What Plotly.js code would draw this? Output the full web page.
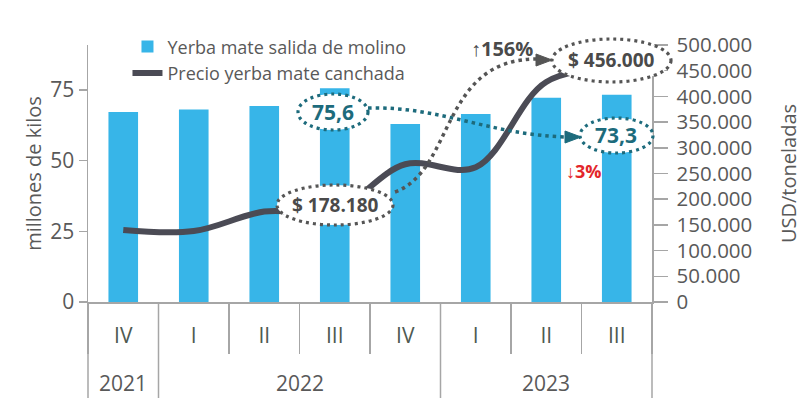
<!DOCTYPE html>
<html>
<head>
<meta charset="utf-8">
<script src="https://cdn.plot.ly/plotly-3.0.1.min.js"></script>
<style>html,body{margin:0;padding:0;background:#fff;}#chart{width:806px;height:400px;}</style>
</head>
<body>
<div id="chart"></div>
<script>
// ---- data ----
const years = ['2021','2022','2022','2022','2022','2023','2023','2023'];
const quarters = ['IV','I','II','III','IV','I','II','III'];
const salidaMolino = [67.2, 68.1, 69.3, 75.6, 63.0, 66.5, 72.2, 73.3]; // millones de kilos
const precioCanchada = [140000, 138000, 176000, 178180, 268000, 262000, 428000, 456000]; // USD/toneladas
const seriesNames = ['Yerba mate salida de molino', 'Precio yerba mate canchada'];
const callouts = ['$ 178.180', '75,6', '73,3', '$ 456.000', '↑156%', '↓3%'];

// unique category keys (year + quarter), shown with the quarter as tick text
const xKeys = years.map((y, i) => y + ' ' + quarters[i]);

// year groups (derived from the years array)
const groups = [];
years.forEach((y, i) => {
  const g = groups[groups.length - 1];
  if (g && g.year === y) g.end = i; else groups.push({year: y, start: i, end: i});
});

// ---- layout helpers (pixel -> paper) ----
const L = 88, R = 652, T = 45, B = 302;
const px = x => (x - L) / (R - L);
const py = y => (B - y) / (B - T);
const N = xKeys.length;
const idxToPaper = v => (v + 0.5) / N;

const FONT = '"Open Sans", "Noto Sans", sans-serif';
const GRAY = '#595959';
const DOT = '#555555';
const TEAL = '#1d6b7c';
const AXIS = '#a6a6a6';

function ellipse(x0, y0, x1, y1, color) {
  return {type:'circle', xref:'paper', yref:'paper', layer:'above',
    x0:px(x0), x1:px(x1), y0:py(y1), y1:py(y0),
    fillcolor:'#ffffff', line:{color:color, width:3.2, dash:'3px,4px'}};
}
function curve(p, color) {
  const s = 'M ' + px(p[0]) + ',' + py(p[1]) + ' C ' + px(p[2]) + ',' + py(p[3]) + ' ' +
            px(p[4]) + ',' + py(p[5]) + ' ' + px(p[6]) + ',' + py(p[7]);
  return {type:'path', xref:'paper', yref:'paper', layer:'above', path:s,
    line:{color:color, width:3.5, dash:'3.5px,4px'}};
}
function head(tx, ty, bx, h, color) {
  const s = 'M ' + px(tx) + ',' + py(ty) + ' L ' + px(bx) + ',' + py(ty - h) +
            ' L ' + px(bx) + ',' + py(ty + h) + ' Z';
  return {type:'path', xref:'paper', yref:'paper', layer:'above', path:s,
    fillcolor:color, line:{color:color, width:1}};
}
function label(x, y, text, color, size) {
  return {xref:'paper', yref:'paper', x:px(x), y:py(y), text:text, showarrow:false,
    xanchor:'center', yanchor:'middle', font:{family:FONT, size:size, color:color}};
}

const data = [
  {type:'bar', name:seriesNames[0], x:xKeys, y:salidaMolino,
   marker:{color:'#37b5e8'}, width:0.42, yaxis:'y'},
  {type:'scatter', mode:'lines', name:seriesNames[1], x:xKeys, y:precioCanchada,
   line:{color:'#4b4b55', width:6, shape:'spline', smoothing:1}, yaxis:'y2'}
];

// year dividers and year labels
const yearShapes = [];
const yearLabels = [];
const bounds = [-0.5].concat(groups.map(g => g.end + 0.5));
bounds.forEach(b => yearShapes.push({type:'line', xref:'paper', yref:'paper',
  x0:idxToPaper(b), x1:idxToPaper(b), y0:0, y1:py(398), line:{color:AXIS, width:1.5}}));
groups.forEach(g => yearLabels.push({xref:'paper', yref:'paper',
  x:idxToPaper((g.start + g.end) / 2), y:py(383), text:g.year, showarrow:false,
  xanchor:'center', yanchor:'middle', font:{family:FONT, size:21, color:GRAY}}));

const layout = {
  width:806, height:400,
  margin:{l:L, r:806-R, t:T, b:400-B, pad:0},
  paper_bgcolor:'#fff', plot_bgcolor:'#fff',
  separators:',.',
  font:{family:FONT, color:GRAY},
  showlegend:true,
  legend:{x:0.07, y:1.065, xanchor:'left', yanchor:'top', bgcolor:'rgba(0,0,0,0)',
    font:{family:FONT, size:18, color:GRAY}, tracegroupgap:0, traceorder:'normal'},
  xaxis:{type:'category', categoryorder:'array', categoryarray:xKeys,
    tickmode:'array', tickvals:xKeys, ticktext:quarters, tickson:'boundaries',
    range:[-0.5, N - 0.5],
    showline:true, linecolor:AXIS, linewidth:1.5,
    ticks:'outside', ticklen:50, tickcolor:AXIS, tickwidth:1.5, ticklabelstandoff:14,
    tickfont:{family:FONT, size:21, color:'#4e5a52'}, showgrid:false, zeroline:false},
  yaxis:{range:[0, 90.9], dtick:25, tick0:0, showline:true, linecolor:AXIS, linewidth:1.5,
    ticks:'outside', ticklen:8, tickcolor:AXIS, tickwidth:1.5, showgrid:false, zeroline:false,
    tickfont:{family:FONT, size:21, color:GRAY},
    title:{text:'millones de kilos', font:{family:FONT, size:20, color:GRAY}, standoff:3}},
  yaxis2:{overlaying:'y', side:'right', range:[0, 500000], dtick:50000, tick0:0,
    tickformat:',.0f', showline:true, linecolor:AXIS, linewidth:1.5,
    ticks:'outside', ticklen:14, tickcolor:AXIS, tickwidth:1.5, ticklabelstandoff:5,
    showgrid:false, zeroline:false,
    tickfont:{family:FONT, size:20.5, color:GRAY},
    title:{text:'USD/toneladas', font:{family:FONT, size:20, color:GRAY}, standoff:30}},
  shapes:yearShapes.concat([
    curve([368,108, 440,106, 490,135, 567,137], TEAL),
    head(581, 137, 565, 6, TEAL),
    curve([395,192, 455,170, 440,58, 538,59], DOT),
    head(552, 60, 536, 6, DOT),
    ellipse(277,185,393,225, DOT),
    ellipse(298,94,368,130, TEAL),
    ellipse(580,118,653,153, TEAL),
    ellipse(552,39,671,82, DOT)
  ]),
  annotations:yearLabels.concat([
    label(335,205, '<b>'+callouts[0]+'</b>', '#4a4a4a', 19),
    label(333,112, '<b>'+callouts[1]+'</b>', TEAL, 21),
    label(616,135, '<b>'+callouts[2]+'</b>', TEAL, 21),
    label(611,60, '<b>'+callouts[3]+'</b>', '#4a4a4a', 19),
    label(502,49, '<b>'+callouts[4]+'</b>', '#4a4a4a', 20),
    label(584,171, '<b>'+callouts[5]+'</b>', '#e3262b', 18)
  ])
};

Plotly.newPlot('chart', data, layout, {displayModeBar:false, staticPlot:true});
</script>
</body>
</html>
